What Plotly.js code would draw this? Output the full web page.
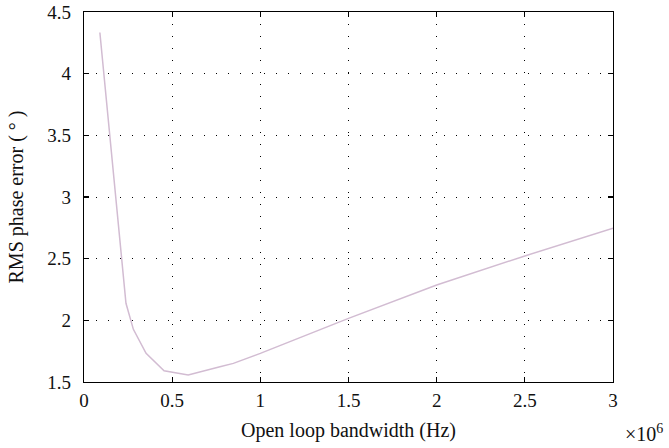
<!DOCTYPE html>
<html>
<head>
<meta charset="utf-8">
<script src="https://cdn.plot.ly/plotly-3.0.1.min.js"></script>
<style>html,body{margin:0;padding:0;background:#fff;}#chart{width:669px;height:448px;}</style>
</head>
<body>
<div id="chart"></div>
<script>
// Open loop bandwidth (x10^6 Hz)
const bandwidth = [0.09, 0.238, 0.28, 0.352, 0.454, 0.591, 0.771, 0.847, 1.0, 1.5, 2.0, 2.5, 3.0];
// RMS phase error (degrees)
const rmsError = [4.334, 2.138, 1.927, 1.732, 1.591, 1.556, 1.623, 1.651, 1.732, 2.016, 2.287, 2.522, 2.747];
const xTicks = [0, 0.5, 1, 1.5, 2, 2.5, 3];
const xTickLabels = ['0', '0.5', '1', '1.5', '2', '2.5', '3'];
const yTicks = [1.5, 2, 2.5, 3, 3.5, 4, 4.5];
const yTickLabels = ['1.5', '2', '2.5', '3', '3.5', '4', '4.5'];

const tickFont = {family: 'Liberation Serif, Times New Roman, serif', size: 19, color: '#111'};
const titleFont = {family: 'Liberation Serif, Times New Roman, serif', size: 20, color: '#111'};

const trace = {
  x: bandwidth, y: rmsError, type: 'scatter', mode: 'lines',
  line: {color: '#d2bcd2', width: 1.5}, hoverinfo: 'skip'
};

const axisCommon = {
  showline: true, linecolor: '#000', linewidth: 1.2, mirror: 'ticks',
  ticks: 'inside', ticklen: 5, tickcolor: '#000', tickwidth: 1.2,
  showgrid: true, gridcolor: '#000', gridwidth: 1, griddash: '1px,11px',
  zeroline: false, tickfont: tickFont
};

const layout = {
  width: 669, height: 448,
  margin: {l: 84, r: 56, t: 12, b: 66},
  paper_bgcolor: '#fff', plot_bgcolor: '#fff',
  showlegend: false,
  font: tickFont,
  xaxis: Object.assign({}, axisCommon, {
    range: [0, 3], tickvals: xTicks, ticktext: xTickLabels, ticklabelstandoff: 1,
    title: {text: 'Open loop bandwidth (Hz)', font: titleFont, standoff: 13}
  }),
  yaxis: Object.assign({}, axisCommon, {
    range: [1.5, 4.5], tickvals: yTicks, ticktext: yTickLabels, ticklabelstandoff: 8,
    title: {text: 'RMS phase error ( ° )', font: titleFont, standoff: 18}
  }),
  annotations: [{
    text: '×10<sup>6</sup>', xref: 'paper', yref: 'paper', x: 1.0, y: 0,
    xanchor: 'left', yanchor: 'middle', xshift: 10, yshift: -51,
    showarrow: false, font: titleFont
  }]
};

Plotly.newPlot('chart', [trace], layout, {displayModeBar: false, staticPlot: true});
</script>
</body>
</html>
